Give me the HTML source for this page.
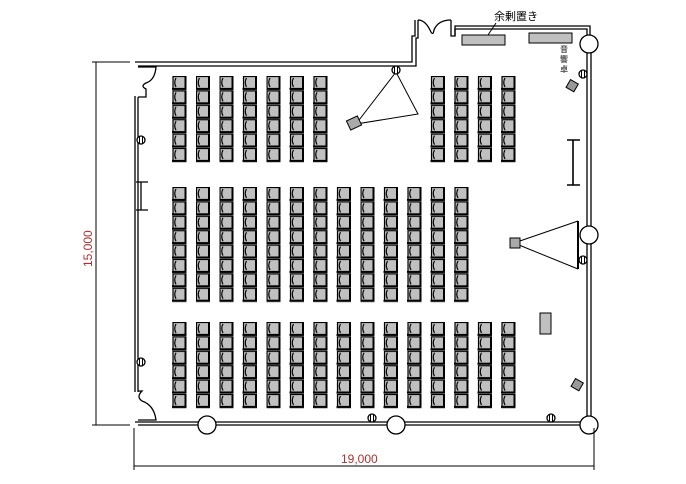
<!DOCTYPE html>
<html><head><meta charset="utf-8"><style>
html,body{margin:0;padding:0;background:#fff;}
svg{display:block;font-family:"Liberation Sans","Noto Sans CJK JP",sans-serif;}
</style></head><body>
<svg width="686" height="484" viewBox="0 0 686 484" xmlns="http://www.w3.org/2000/svg">
<defs>
<g id="ch">
<rect x="1" y="0.5" width="12.5" height="12" fill="#c0c0c0" stroke="#000" stroke-width="1.2"/>
<line x1="0" y1="13" x2="14.5" y2="13" stroke="#000" stroke-width="2.2"/>
<line x1="13.5" y1="0" x2="13.5" y2="13" stroke="#000" stroke-width="2"/>
<path d="M4 2 Q1.5 6.5 4 11" fill="none" stroke="#000" stroke-width="1.2"/>
</g>
<pattern id="p1" patternUnits="userSpaceOnUse" x="172" y="76" width="23.5" height="14.4"><use href="#ch"/></pattern>
<pattern id="p2" patternUnits="userSpaceOnUse" x="172" y="187" width="23.5" height="14.4"><use href="#ch"/></pattern>
<pattern id="p3" patternUnits="userSpaceOnUse" x="172" y="322" width="23.5" height="14.4"><use href="#ch"/></pattern>
<g id="cm"><circle cx="0" cy="0" r="4" fill="#fff" stroke="#000" stroke-width="1.3"/><line x1="-1.5" y1="-4" x2="-1.5" y2="4" stroke="#000"/><line x1="1.5" y1="-4" x2="1.5" y2="4" stroke="#000"/></g>
</defs>
<rect x="172" y="76" width="164.5" height="86.4" fill="url(#p1)"/>
<rect x="430.5" y="76" width="94" height="86.4" fill="url(#p1)"/>
<rect x="172" y="187" width="305.5" height="115.2" fill="url(#p2)"/>
<rect x="172" y="322" width="352.5" height="86.4" fill="url(#p3)"/>

<g fill="none" stroke="#000" stroke-width="1.3">
<path d="M135 62 H412 V36 H415 V20"/>
<path d="M138 66 H416 V38 H418 V20"/>
<path d="M451 20 V36 H455 V26 H590 V36"/>
<path d="M455 36 V29 H587 V36"/>
<line x1="587" y1="52" x2="587" y2="227"/><line x1="591" y1="52" x2="591" y2="227"/>
<line x1="587" y1="243" x2="587" y2="417"/><line x1="591" y1="243" x2="591" y2="417"/>
<line x1="135" y1="96" x2="135" y2="392"/><line x1="138" y1="97" x2="138" y2="392"/>
<path d="M135 422 H200"/><path d="M138 425 H200"/>
<line x1="214" y1="422" x2="389" y2="422"/><line x1="214" y1="425" x2="389" y2="425"/>
<line x1="404" y1="422" x2="582" y2="422"/><line x1="404" y1="425" x2="582" y2="425"/>
<path d="M138 67 H156 Q155 80 146 83 Q140 86 146 89 V97 H138"/>
<path d="M138 391 H142 Q136 397 142 401 Q154 405 156 420 H138"/>
<path d="M418 20 Q425 20 430 30 Q433 37 434 30 Q438 20 451 20"/>
<circle cx="589" cy="44" r="9" fill="#fff"/>
<circle cx="589" cy="235" r="9" fill="#fff"/>
<circle cx="589" cy="425" r="9" fill="#fff"/>
<circle cx="207" cy="425" r="9" fill="#fff"/>
<circle cx="396" cy="425" r="9" fill="#fff"/>
<path d="M136 182 H148 M136 210 H148 M141 182 V210"/>
<path d="M567 140 H580 M573 140 V185 M567 185 H580" stroke-width="1.6"/>
<path d="M578 221 V269" stroke-width="2"/>
<path d="M514 243 L578 221 M514 243 L578 269" stroke-width="1"/>
<path d="M396 72 L356 124 L418 114 Z" stroke-width="1"/>
<path d="M96 62 V425 M92 62 H130 M92 425 H130 M134 428 V470 M594 428 V470 M134 466 H594" stroke-width="1"/>
<path d="M496 23 L488 35" stroke-width="1"/>
</g>
<rect x="510" y="238" width="10" height="10" fill="#aaa" stroke="#000"/>
<rect x="348" y="118" width="12" height="10" fill="#aaa" stroke="#000" transform="rotate(-25 354 123)"/>
<rect x="462" y="35" width="43" height="10" fill="#c0c0c0" stroke="#000"/>
<rect x="529" y="33" width="43" height="10" fill="#c0c0c0" stroke="#000"/>
<rect x="540" y="313" width="11" height="21" fill="#c0c0c0" stroke="#000"/>
<rect x="568" y="81" width="9" height="9" fill="#999" stroke="#000" transform="rotate(30 572 85)"/>
<rect x="573" y="380" width="9" height="9" fill="#999" stroke="#000" transform="rotate(30 577 384)"/>
<use href="#cm" x="396" y="70"/>
<use href="#cm" x="141" y="140"/>
<use href="#cm" x="141" y="362"/>
<use href="#cm" x="372" y="418"/>
<use href="#cm" x="551" y="418"/>
<use href="#cm" x="583" y="74"/>
<use href="#cm" x="583" y="260"/>
<text x="560" y="52" font-size="8" font-weight="bold" fill="#555">音</text>
<text x="560" y="62" font-size="8" font-weight="bold" fill="#555">響</text>
<text x="560" y="72" font-size="8" font-weight="bold" fill="#555">卓</text>
<text x="494" y="20" font-size="11" fill="#000">余剰置き</text>
<text x="341" y="463" font-size="12" fill="#b03030">19,000</text>
<text transform="translate(92 267) rotate(-90)" font-size="12" fill="#b03030">15,000</text>
</svg>
</body></html>
